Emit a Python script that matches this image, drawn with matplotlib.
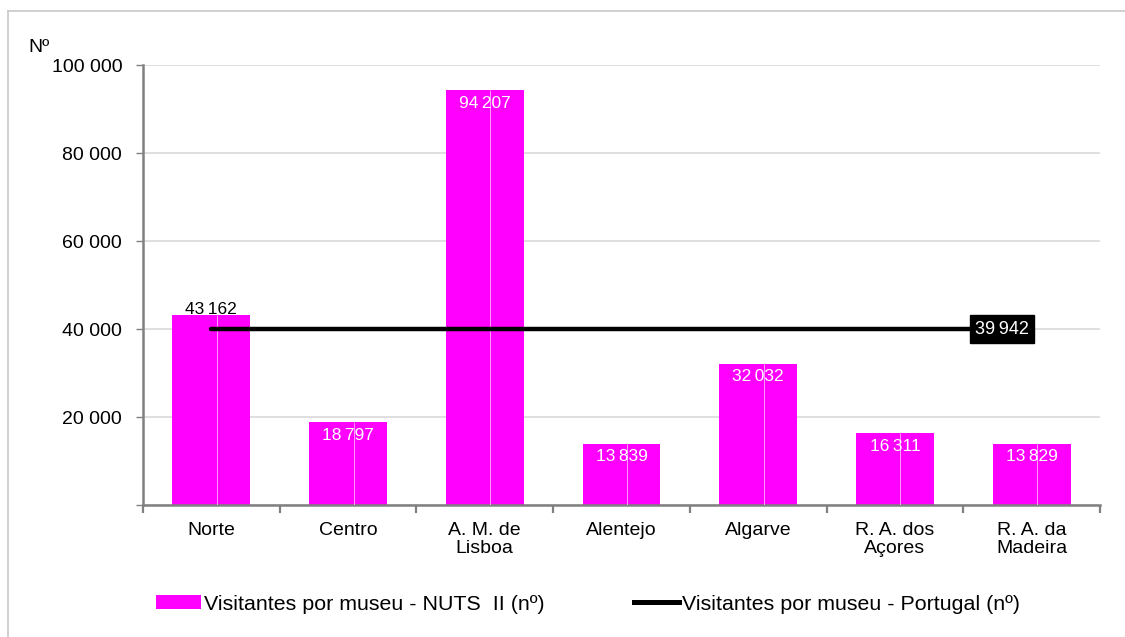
import matplotlib
matplotlib.use("Agg")
import matplotlib.pyplot as plt
import numpy as np
from matplotlib.lines import Line2D
from matplotlib.patches import Patch

categories = ["Norte", "Centro", "A. M. de\nLisboa", "Alentejo", "Algarve", "R. A. dos\nAçores", "R. A. da\nMadeira"]
nuts_values = [43162, 18797, 94207, 13839, 32032, 16311, 13829]
portugal_value = 39942
y_ticks = [20000, 40000, 60000, 80000, 100000]

plt.rcParams['font.family'] = ['Liberation Sans', 'DejaVu Sans']

def fmt(v):
    s = f"{v:,}".replace(",", "\u2009")
    return s

def fmt_tick(v):
    return f"{v:,}".replace(",", " ")

fig = plt.figure(figsize=(11.25, 6.37), dpi=100)
ax = fig.add_axes([143/1125, 1-505/637, (1100-143)/1125, (505-65)/637])

magenta = "#FF00FF"
gray = "#808080"
x = np.arange(len(categories))
bars = ax.bar(x, nuts_values, width=0.57, color=magenta, zorder=2)
ax.vlines(x + 0.04, 0, nuts_values, color="white", linewidth=0.6, alpha=0.7, zorder=3)
ax.plot(x, [portugal_value]*len(x), color="black", linewidth=3.2, zorder=4,
        solid_capstyle="round")

for i, v in enumerate(nuts_values):
    if i == 0:
        ax.text(x[i], v - 500, fmt(v), ha="center", va="bottom", fontsize=12.5, color="black", zorder=5)
    else:
        ax.text(x[i], v - 1200, fmt(v), ha="center", va="top", fontsize=12.5, color="white", zorder=5)

ax.text(x[-1] - 0.02, portugal_value, fmt(portugal_value), ha="right", va="center",
        fontsize=13, color="white", zorder=6,
        bbox=dict(boxstyle="square,pad=0.3", facecolor="black", edgecolor="black"))

ax.set_xlim(-0.5, len(categories) - 0.5)
ax.set_ylim(0, 100000)
ax.set_yticks([0] + y_ticks)
ax.set_yticklabels([""] + [fmt_tick(v) for v in y_ticks], fontsize=14)
ax.yaxis.grid(True, color="#D9D9D9", linewidth=1.2, zorder=0)
ax.set_axisbelow(True)

ax.set_xticks(x)
ax.set_xticklabels(categories, fontsize=14, linespacing=1.1)
ax.set_xticks(np.arange(-0.5, len(categories)), minor=True)
ax.tick_params(axis="x", which="major", length=0, pad=12)
ax.tick_params(axis="x", which="minor", length=6, width=1.6, color=gray)
ax.tick_params(axis="y", length=5, width=1, color=gray, pad=10)

for s in ["top", "right"]:
    ax.spines[s].set_visible(False)
for s in ["left", "bottom"]:
    ax.spines[s].set_color(gray)
    ax.spines[s].set_linewidth(1.8)

fig.text(28/1125, 1-47/637, "Nº", fontsize=14, ha="left", va="center")

handles = [Patch(facecolor=magenta, edgecolor="none"),
           Line2D([0], [0], color="black", linewidth=3.6)]
labels = ["Visitantes por museu - NUTS  II (nº)", "Visitantes por museu - Portugal (nº)"]
fig.legend(handles, labels, loc="center", bbox_to_anchor=(588/1125, 1-604/637), ncol=2,
           frameon=False, fontsize=15.4, handlelength=2.1, handleheight=0.6,
           handletextpad=0.12, columnspacing=4.2)

# outer border (left and top visible)
fig.add_artist(Line2D([8/1125, 8/1125], [0, 1-11/637], transform=fig.transFigure, color="#C8C8C8", linewidth=1.2))
fig.add_artist(Line2D([8/1125, 1], [1-11/637, 1-11/637], transform=fig.transFigure, color="#C8C8C8", linewidth=1.2))

fig.savefig("out.png", dpi=100, facecolor="white")
